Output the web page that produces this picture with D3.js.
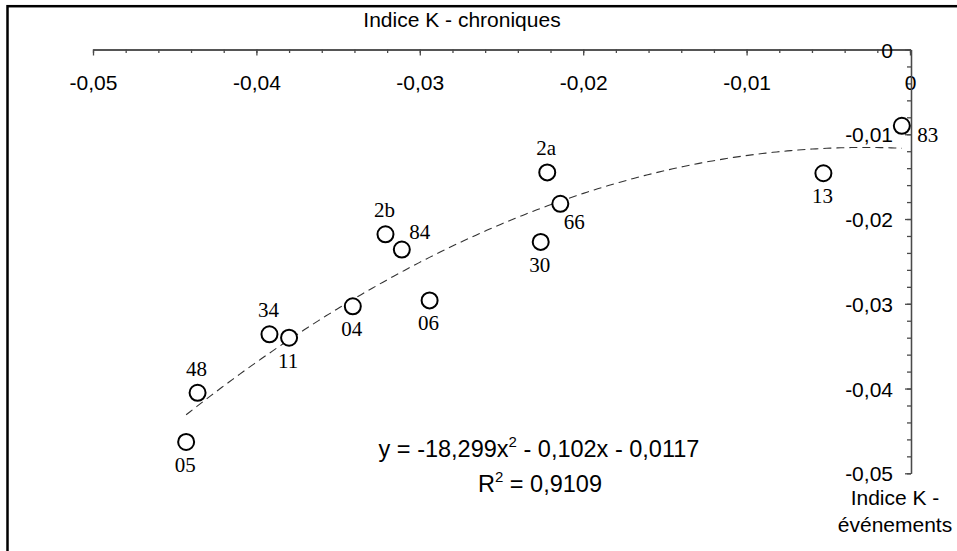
<!DOCTYPE html>
<html>
<head>
<meta charset="utf-8">
<script src="https://cdn.jsdelivr.net/npm/d3@7"></script>
<style>
  html, body { margin: 0; padding: 0; background: #fff; }
  svg { display: block; }
</style>
</head>
<body>
<svg id="chart" width="957" height="551"></svg>
<script>
// ---- data ----
const labels = ["83", "13", "2a", "66", "30", "48", "05", "34", "11", "04", "06", "2b", "84"];
const xValues = [-0.0005, -0.0053, -0.0222, -0.0214, -0.0226, -0.0436, -0.0443, -0.0392, -0.0380, -0.0341, -0.0294, -0.0321, -0.0311];
const yValues = [-0.0090, -0.0146, -0.0145, -0.0182, -0.0227, -0.0405, -0.0463, -0.0336, -0.0340, -0.0303, -0.0296, -0.0218, -0.0236];
const labelPlacement = ["right", "below", "above", "below-right", "below", "above", "below", "above", "below", "below", "below", "above", "above-right"];
const xTicks = [-0.05, -0.04, -0.03, -0.02, -0.01, 0];
const xTickLabels = ["-0,05", "-0,04", "-0,03", "-0,02", "-0,01", "0"];
const yTicks = [-0.05, -0.04, -0.03, -0.02, -0.01, 0];
const yTickLabels = ["-0,05", "-0,04", "-0,03", "-0,02", "-0,01", "0"];
const trendCoefs = [-18.299, -0.102, -0.0117]; // a, b, c  (y = a x^2 + b x + c)
const equationParts = ["y = -18,299x", "2", " - 0,102x - 0,0117"];
const r2Parts = ["R", "2", " = 0,9109"];
const xTitle = "Indice K - chroniques";
const yTitleLines = ["Indice K -", "événements"];

// ---- layout ----
const svg = d3.select("#chart");
const axisColor = "#4a4a4a";
const sans = "'Liberation Sans', Arial, sans-serif";
const serif = "'Liberation Serif', 'Times New Roman', serif";

const x = d3.scaleLinear().domain([-0.05, 0]).range([93, 910]);
const y = d3.scaleLinear().domain([-0.05, 0]).range([473.3, 49.5]);
const axisX = x(0) + 1, axisY = y(0);

// border
svg.append("rect").attr("x", 7.5).attr("y", 6.2).attr("width", 1000).attr("height", 600)
  .attr("fill", "none").attr("stroke", "#000").attr("stroke-width", 2.5);

// trend line (from displayed equation)
const xmin = d3.min(xValues), xmax = d3.max(xValues);
const trend = d3.range(0, 201).map(i => {
  const xv = xmin + (xmax - xmin) * i / 200;
  return [xv, trendCoefs[0] * xv * xv + trendCoefs[1] * xv + trendCoefs[2]];
});
svg.append("path")
  .attr("d", d3.line().x(d => x(d[0])).y(d => y(d[1]))(trend))
  .attr("fill", "none").attr("stroke", "#333").attr("stroke-width", 1.1)
  .attr("stroke-dasharray", "8,5");

// minor ticks
const minor = d3.range(-0.05, 0.0001, 0.002);
const gx = svg.append("g").attr("transform", `translate(0,${axisY})`)
  .call(d3.axisBottom(x).tickValues(minor).tickSize(3.5).tickSizeOuter(0).tickFormat(""));
const gy = svg.append("g").attr("transform", `translate(${axisX},0)`)
  .call(d3.axisLeft(y).tickValues(minor).tickSize(4).tickSizeOuter(0).tickFormat(""));

// major ticks + labels
const gx2 = svg.append("g").attr("transform", `translate(0,${axisY})`)
  .call(d3.axisBottom(x).tickValues(xTicks).tickSize(6).tickSizeOuter(0)
    .tickFormat((d, i) => xTickLabels[i]));
gx2.selectAll("text").attr("y", 40).attr("dy", null);
const gy2 = svg.append("g").attr("transform", `translate(${axisX},0)`)
  .call(d3.axisLeft(y).tickValues(yTicks).tickSize(6).tickSizeOuter(0).tickPadding(12)
    .tickFormat((d, i) => yTickLabels[i]));
gy2.selectAll("text").attr("dy", "0.36em");

[gx, gy, gx2, gy2].forEach(g => {
  g.attr("font-family", sans).attr("font-size", 21);
  g.selectAll("text").attr("fill", "#000");
  g.selectAll("line").attr("stroke", axisColor).attr("stroke-width", 1.3);
  g.select(".domain").attr("stroke", axisColor).attr("stroke-width", 1.3);
});

// axis titles
svg.append("text").attr("x", 462).attr("y", 27).attr("text-anchor", "middle")
  .attr("font-family", sans).attr("font-size", 21).text(xTitle);
yTitleLines.forEach((t, i) => {
  svg.append("text").attr("x", 895).attr("y", 505 + i * 26.5).attr("text-anchor", "middle")
    .attr("font-family", sans).attr("font-size", 21).text(t);
});

// points
const pts = labels.map((l, i) => ({ label: l, x: xValues[i], y: yValues[i], pos: labelPlacement[i] }));
svg.append("g").selectAll("circle").data(pts).join("circle")
  .attr("cx", d => x(d.x)).attr("cy", d => y(d.y)).attr("r", 8)
  .attr("fill", "#fff").attr("stroke", "#000").attr("stroke-width", 2);

const offsets = {
  "above": [-1, -24], "below": [-1, 23], "right": [26, 9],
  "below-right": [14, 18], "above-right": [18, -18]
};
svg.append("g").selectAll("text").data(pts).join("text")
  .attr("x", d => x(d.x) + offsets[d.pos][0])
  .attr("y", d => y(d.y) + offsets[d.pos][1] + 7)
  .attr("text-anchor", "middle")
  .attr("font-family", serif).attr("font-size", 21)
  .text(d => d.label);

// equation
const eq = svg.append("text").attr("x", 539).attr("y", 457).attr("text-anchor", "middle")
  .attr("font-family", sans).attr("font-size", 23.5);
eq.append("tspan").text(equationParts[0]);
eq.append("tspan").attr("dy", -10).attr("font-size", 15).text(equationParts[1]);
eq.append("tspan").attr("dy", 10).text(equationParts[2]);

const r2 = svg.append("text").attr("x", 540).attr("y", 492).attr("text-anchor", "middle")
  .attr("font-family", sans).attr("font-size", 23.5);
r2.append("tspan").text(r2Parts[0]);
r2.append("tspan").attr("dy", -10).attr("font-size", 15).text(r2Parts[1]);
r2.append("tspan").attr("dy", 10).text(r2Parts[2]);
</script>
</body>
</html>
